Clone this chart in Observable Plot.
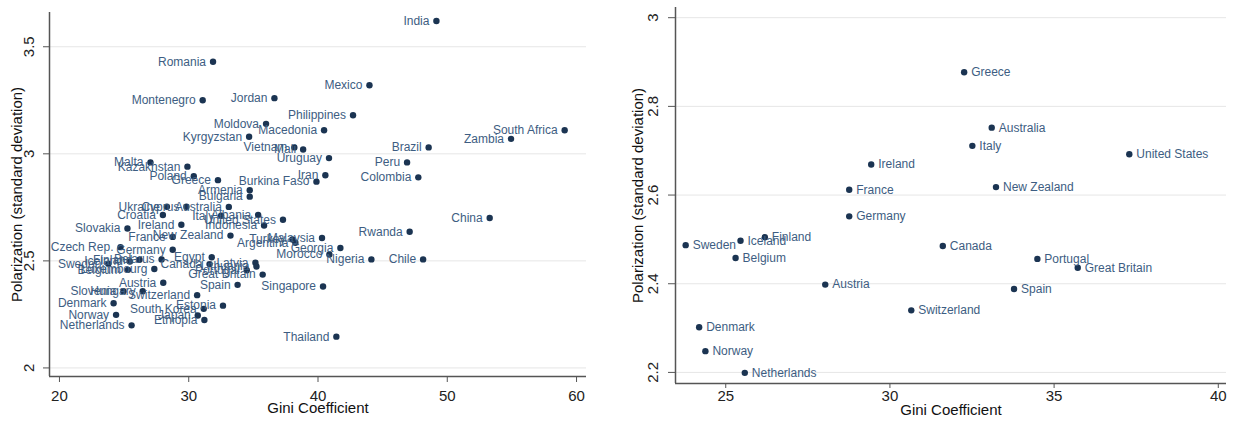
<!DOCTYPE html>
<html>
<head>
<meta charset="utf-8">
<script src="https://cdn.jsdelivr.net/npm/d3@7"></script>
<script src="https://cdn.jsdelivr.net/npm/@observablehq/plot@0.6"></script>
<style>
  html, body { margin: 0; padding: 0; background: #fff; }
  #charts { display: flex; width: 1234px; height: 423px; }
  #charts svg { display: block; }
</style>
</head>
<body>
<div id="charts"></div>
<script>
// Income inequality (Gini) vs. opinion polarization (standard deviation), by country
const countries = [
  "India", "Romania", "Montenegro", "Jordan", "Mexico", "Philippines", "Macedonia", "Moldova",
  "Kyrgyzstan", "Vietnam", "Mali", "Uruguay", "Brazil", "South Africa", "Zambia", "Peru",
  "Colombia", "Iran", "Burkina Faso", "Malta", "Kazakhstan", "Poland", "Greece", "Armenia",
  "Bulgaria", "Ukraine", "Cyprus", "Australia", "Croatia", "Italy", "Albania", "United States",
  "Ireland", "Indonesia", "Slovakia", "France", "New Zealand", "Turkey", "Argentina", "Malaysia",
  "Georgia", "Morocco", "Nigeria", "Chile", "Rwanda", "China", "Czech Rep.", "Germany",
  "Sweden", "Iceland", "Finland", "Belgium", "Belarus", "Luxembourg", "Egypt", "Canada",
  "Portugal", "Latvia", "Lithuania", "Great Britain", "Austria", "Spain", "Singapore", "Slovenia",
  "Hungary", "Switzerland", "Denmark", "Norway", "Netherlands", "Estonia", "South Korea", "Japan",
  "Ethiopia", "Thailand"
];
const gini = [
  49.16, 31.88, 31.08, 36.63, 43.98, 42.71, 40.47, 35.98,
  34.67, 38.17, 38.85, 40.85, 48.56, 59.08, 54.93, 46.89,
  47.76, 40.57, 39.88, 27.04, 29.90, 30.39, 32.26, 34.72,
  34.72, 28.31, 29.82, 33.10, 28.00, 32.51, 35.37, 37.29,
  29.43, 35.83, 25.26, 28.76, 33.23, 38.02, 38.25, 40.31,
  41.73, 40.88, 44.13, 48.13, 47.09, 53.28, 24.72, 28.76,
  23.78, 25.45, 26.19, 25.30, 27.90, 27.34, 31.78, 31.61,
  34.49, 35.16, 35.24, 35.72, 28.03, 33.78, 40.39, 24.95,
  26.44, 30.65, 24.19, 24.38, 25.58, 32.65, 31.16, 30.70,
  31.21, 41.42
];
const polarization = [
  3.62, 3.43, 3.25, 3.26, 3.32, 3.18, 3.11, 3.14,
  3.08, 3.03, 3.02, 2.98, 3.03, 3.11, 3.07, 2.96,
  2.89, 2.90, 2.87, 2.96, 2.94, 2.895, 2.877, 2.83,
  2.80, 2.753, 2.753, 2.752, 2.714, 2.711, 2.715, 2.692,
  2.669, 2.665, 2.651, 2.612, 2.618, 2.60, 2.585, 2.607,
  2.56, 2.53, 2.507, 2.507, 2.636, 2.70, 2.564, 2.552,
  2.487, 2.497, 2.505, 2.458, 2.507, 2.462, 2.517, 2.485,
  2.456, 2.491, 2.474, 2.436, 2.398, 2.388, 2.38, 2.358,
  2.358, 2.340, 2.302, 2.248, 2.199, 2.291, 2.276, 2.245,
  2.224, 2.146
];

// Countries shown in the second (OECD) panel
const oecdCountries = [
  "Greece", "Australia", "Italy", "United States", "Ireland", "France", "New Zealand",
  "Germany", "Sweden", "Iceland", "Finland", "Belgium", "Canada", "Portugal",
  "Great Britain", "Austria", "Spain", "Switzerland", "Denmark", "Norway", "Netherlands"
];

const allTicksX = [20, 30, 40, 50, 60];
const allTicksY = [2, 2.5, 3, 3.5];
const oecdTicksX = [25, 30, 35, 40];
const oecdTicksY = [2.2, 2.4, 2.6, 2.8, 3];

const rows = countries.map((c, i) => ({country: c, gini: gini[i], pol: polarization[i]}));
const oecdRows = rows.filter(d => oecdCountries.includes(d.country));

const FONT = "'Liberation Sans', Arial, Helvetica, sans-serif";
const DOT = "#1b3452";
const LABEL = "#3d5d82";

function panel(o) {
  return Plot.plot({
    width: 617,
    height: 423,
    marginLeft: o.ml, marginRight: o.mr, marginTop: o.mt, marginBottom: o.mb,
    style: {fontFamily: FONT, fontSize: "15px", color: "#222", background: "#fff"},
    x: {domain: o.xDomain},
    y: {domain: o.yDomain},
    marks: [
      Plot.ruleY(o.yTicks, {y: d => d, stroke: "#e6e6e6", strokeWidth: 1}),
      Plot.axisX({ticks: o.xTicks, tickSize: o.xTickSize, tickPadding: o.xTickPad, stroke: "#555", fill: "#222", label: null}),
      Plot.axisY({ticks: o.yTicks, tickSize: o.yTickSize, tickPadding: o.yTickPad, tickRotate: -90, tickFormat: d => String(d), stroke: "#555", fill: "#222", label: null}),
      Plot.ruleX([o.xDomain[0]], {x: d => d, stroke: "#555", strokeWidth: 1.5}),
      Plot.ruleY([o.yDomain[0]], {y: d => d, stroke: "#555", strokeWidth: 1.5}),
      Plot.dot(o.data, {x: "gini", y: "pol", r: 3.2, fill: DOT, stroke: null}),
      Plot.text(o.data, {
        x: "gini", y: "pol", text: "country",
        textAnchor: o.labelLeft ? "end" : "start",
        dx: o.labelLeft ? -7 : 7,
        fill: LABEL, fontSize: 12
      }),
      Plot.text(["Gini Coefficient"], {text: d => d, frameAnchor: "bottom", dy: o.xTitleDy, fontSize: 15, fill: "#111"}),
      Plot.text(["Polarization (standard deviation)"], {text: d => d, frameAnchor: "left", textAnchor: "middle", dx: o.yTitleDx, rotate: -90, fontSize: 15, fill: "#111"})
    ]
  });
}

const root = document.getElementById("charts");

root.appendChild(panel({
  data: rows,
  ml: 49, mr: 31, mt: 12, mb: 47,
  xDomain: [19.23, 60.77], yDomain: [1.96, 3.66],
  xTicks: allTicksX, yTicks: allTicksY,
  xTickSize: 6, xTickPad: 8, yTickSize: 6, yTickPad: 10,
  xTitleDy: 36, yTitleDx: -32,
  labelLeft: true
}));

root.appendChild(panel({
  data: oecdRows,
  ml: 58, mr: 8, mt: 7, mb: 40,
  xDomain: [23.47, 40.25], yDomain: [2.175, 3.023],
  xTicks: oecdTicksX, yTicks: oecdTicksY,
  xTickSize: 5, xTickPad: 2, yTickSize: 7, yTickPad: 11,
  xTitleDy: 31, yTitleDx: -37,
  labelLeft: false
}));
</script>
</body>
</html>
